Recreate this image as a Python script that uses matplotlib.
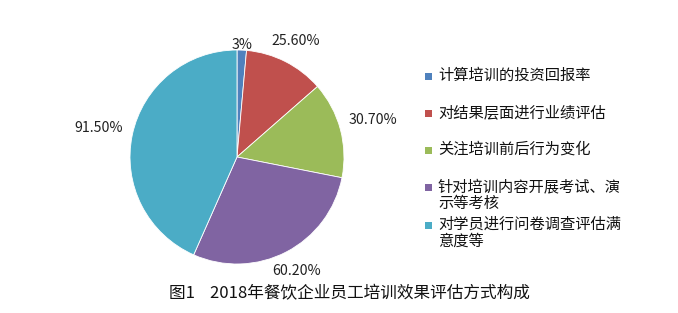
import matplotlib
matplotlib.use("Agg")
import matplotlib.pyplot as plt
import numpy as np
from matplotlib.patches import Rectangle

plt.rcParams['font.family'] = ['Noto Sans CJK SC', 'DejaVu Sans']

categories = ["计算培训的投资回报率", "对结果层面进行业绩评估", "关注培训前后行为变化",
              "针对培训内容开展考试、演\n示等考核", "对学员进行问卷调查评估满\n意度等"]
values = [3, 25.6, 30.7, 60.2, 91.5]
value_labels = ["3%", "25.60%", "30.70%", "60.20%", "91.50%"]
colors = ["#4F81BD", "#C0504D", "#9BBB59", "#8064A2", "#4BACC6"]
title = "图1    2018年餐饮企业员工培训效果评估方式构成"

W, H = 678, 313
fig = plt.figure(figsize=(W / 100, H / 100), dpi=100)

cx, cy, r = 237, 157, 107
ax = fig.add_axes([(cx - r) / W, (H - cy - r) / H, 2 * r / W, 2 * r / H])
wedges, _ = ax.pie(values, colors=colors, startangle=90, counterclock=False,
                   radius=1, wedgeprops=dict(edgecolor="white", linewidth=0.6))
ax.set_xlim(-1, 1)
ax.set_ylim(-1, 1)
ax.set_aspect("equal")
ax.axis("off")

label_r = [1.05, 1.22, 1.32, 1.2, 1.32]
for w, lab, lr in zip(wedges, value_labels, label_r):
    ang = np.deg2rad((w.theta1 + w.theta2) / 2)
    ax.text(lr * np.cos(ang), lr * np.sin(ang), lab, ha="center", va="center",
            fontsize=10.2, color="#222222", clip_on=False)

# legend (manual to keep markers aligned with first text line)
leg_y = [76, 113, 150, 187, 225]
mx, tx, ms = 425, 438, 7
for y, lab, c in zip(leg_y, categories, colors):
    fig.patches.append(Rectangle(((mx) / W, (H - y - ms / 2) / H), ms / W, ms / H,
                                 transform=fig.transFigure, facecolor=c,
                                 edgecolor="none"))
    fig.text(tx / W, (H - y + 9) / H, lab, ha="left", va="top", fontsize=11,
             color="#111111", linespacing=1.0)

fig.text(349 / W, (H - 294) / H, title, ha="center", va="center", fontsize=12,
         color="#111111")

fig.savefig("out.png", dpi=100)
